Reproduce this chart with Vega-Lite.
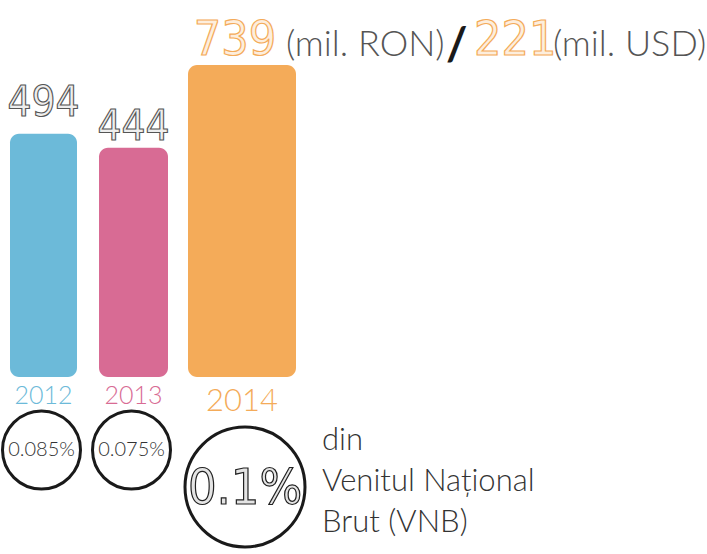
{
  "$schema": "https://vega.github.io/schema/vega-lite/v6.json",
  "width": 707,
  "height": 554,
  "autosize": {"type": "none"},
  "padding": 0,
  "background": "white",
  "config": {"view": {"stroke": null}},
  "data": {"values": [
    {"year": 2012, "ron": 494, "pct": "0.085%"},
    {"year": 2013, "ron": 444, "pct": "0.075%"},
    {"year": 2014, "ron": 739, "usd": 221, "pct": "0.1%"}
  ]},
  "encoding": {
    "x": {"field": "year", "type": "quantitative", "axis": null,
          "scale": {"domain": [2012, 2013, 2014], "range": [43.5, 133.5, 242], "nice": false, "zero": false, "padding": 0}}
  },
  "layer": [
    {
      "mark": {"type": "bar", "cornerRadius": 9},
      "encoding": {
        "y": {"field": "ron", "type": "quantitative", "axis": null,
              "scale": {"domain": [-374, 739], "range": [377, 65], "nice": false, "zero": false, "padding": 0}},
        "y2": {"datum": -374},
        "size": {"field": "year", "type": "quantitative", "legend": null,
                 "scale": {"domain": [2012, 2013, 2014], "range": [67, 69, 108], "zero": false, "nice": false}},
        "color": {"field": "year", "type": "nominal", "legend": null,
                  "scale": {"domain": [2012, 2013, 2014], "range": ["#6cbad9", "#d86b94", "#f4ab59"]}}
      }
    },
    {
      "transform": [{"filter": "datum.year == 2012"}],
      "mark": {"type": "text", "font": "Liberation Sans Narrow, DejaVu Sans Condensed, sans-serif", "fontSize": 42,
               "fill": "#eeeeee", "stroke": "#555555", "strokeWidth": 1.1, "baseline": "alphabetic", "align": "center", "dy": -18},
      "encoding": {"y": {"field": "ron", "type": "quantitative"}, "text": {"field": "ron", "type": "quantitative"}}
    },
    {
      "transform": [{"filter": "datum.year == 2013"}],
      "mark": {"type": "text", "font": "Liberation Sans Narrow, DejaVu Sans Condensed, sans-serif", "fontSize": 42,
               "fill": "#eeeeee", "stroke": "#555555", "strokeWidth": 1.1, "baseline": "alphabetic", "align": "center", "dy": -8},
      "encoding": {"y": {"field": "ron", "type": "quantitative"}, "text": {"field": "ron", "type": "quantitative"}}
    },
    {
      "transform": [{"filter": "datum.year == 2014"}],
      "mark": {"type": "text", "font": "Liberation Sans Narrow, DejaVu Sans Condensed, sans-serif", "fontSize": 48,
               "fill": "#fdeedd", "stroke": "#f4ab59", "strokeWidth": 1.2, "baseline": "alphabetic", "align": "center", "dx": -7, "dy": -10},
      "encoding": {"y": {"field": "ron", "type": "quantitative"}, "text": {"field": "ron", "type": "quantitative"}}
    },
    {
      "transform": [{"filter": "datum.year == 2014"}],
      "mark": {"type": "text", "font": "Lato", "fontWeight": 300, "fontSize": 36, "color": "#555555",
               "baseline": "alphabetic", "align": "left", "dx": 44, "dy": -9},
      "encoding": {"y": {"field": "ron", "type": "quantitative"}, "text": {"value": "(mil. RON)"}}
    },
    {
      "transform": [{"filter": "datum.year == 2014"}],
      "mark": {"type": "text", "font": "Lato", "fontWeight": "bold", "fontSize": 46, "color": "#1a1a1a",
               "baseline": "alphabetic", "align": "left", "dx": 204, "dy": -5},
      "encoding": {"y": {"field": "ron", "type": "quantitative"}, "text": {"value": "/"}}
    },
    {
      "transform": [{"filter": "datum.year == 2014"}],
      "mark": {"type": "text", "font": "Liberation Sans Narrow, DejaVu Sans Condensed, sans-serif", "fontSize": 48,
               "fill": "#fdeedd", "stroke": "#f4ab59", "strokeWidth": 1.2, "baseline": "alphabetic", "align": "left", "dx": 232, "dy": -10},
      "encoding": {"y": {"field": "ron", "type": "quantitative"}, "text": {"field": "usd", "type": "quantitative"}}
    },
    {
      "transform": [{"filter": "datum.year == 2014"}],
      "mark": {"type": "text", "font": "Lato", "fontWeight": 300, "fontSize": 36, "color": "#555555",
               "baseline": "alphabetic", "align": "left", "dx": 311, "dy": -9},
      "encoding": {"y": {"field": "ron", "type": "quantitative"}, "text": {"value": "(mil. USD)"}}
    },
    {
      "transform": [{"filter": "datum.year < 2014"}],
      "mark": {"type": "text", "font": "Lato", "fontWeight": 300, "fontSize": 25, "baseline": "alphabetic", "align": "center", "dy": 27},
      "encoding": {
        "y": {"datum": -374},
        "text": {"field": "year", "type": "ordinal"},
        "color": {"field": "year", "type": "nominal", "legend": null}
      }
    },
    {
      "transform": [{"filter": "datum.year == 2014"}],
      "mark": {"type": "text", "font": "Lato", "fontWeight": 300, "fontSize": 31, "baseline": "alphabetic", "align": "center", "dy": 34},
      "encoding": {
        "y": {"datum": -374},
        "text": {"field": "year", "type": "ordinal"},
        "color": {"field": "year", "type": "nominal", "legend": null}
      }
    },
    {
      "transform": [{"filter": "datum.year < 2014"}],
      "mark": {"type": "point", "shape": "circle", "size": 6084, "filled": false, "color": "#1a1a1a",
               "strokeWidth": 3, "opacity": 1, "yOffset": 73, "xOffset": -2},
      "encoding": {"y": {"datum": -374}}
    },
    {
      "transform": [{"filter": "datum.year == 2014"}],
      "mark": {"type": "point", "shape": "circle", "size": 14400, "filled": false, "color": "#1a1a1a",
               "strokeWidth": 3, "opacity": 1, "yOffset": 110, "xOffset": 3},
      "encoding": {"y": {"datum": -374}}
    },
    {
      "transform": [{"filter": "datum.year < 2014"}],
      "mark": {"type": "text", "font": "Lato", "fontWeight": 300, "fontSize": 20, "color": "#333333",
               "baseline": "middle", "align": "center", "dx": -2, "dy": 73},
      "encoding": {"y": {"datum": -374}, "text": {"field": "pct", "type": "nominal"}}
    },
    {
      "transform": [{"filter": "datum.year == 2014"}],
      "mark": {"type": "text", "font": "Liberation Sans Narrow, DejaVu Sans Condensed, sans-serif", "fontSize": 50,
               "fill": "#e4e4e4", "stroke": "#222222", "strokeWidth": 1.2, "baseline": "middle", "align": "center", "dx": 3, "dy": 112},
      "encoding": {"y": {"datum": -374}, "text": {"field": "pct", "type": "nominal"}}
    },
    {
      "transform": [{"filter": "datum.year == 2014"}],
      "mark": {"type": "text", "font": "Lato", "fontWeight": 300, "fontSize": 31, "color": "#333333",
               "baseline": "alphabetic", "align": "left", "dx": 80, "dy": 73, "lineHeight": 41},
      "encoding": {"y": {"datum": -374}, "text": {"value": ["din", "Venitul Național", "Brut (VNB)"]}}
    }
  ]
}
